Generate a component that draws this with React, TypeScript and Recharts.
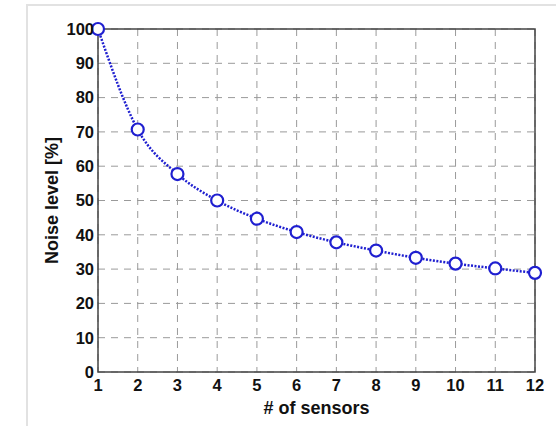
import { LineChart, Line, XAxis, YAxis, CartesianGrid, ReferenceArea, Label } from 'recharts'

const sensors = [1, 2, 3, 4, 5, 6, 7, 8, 9, 10, 11, 12]
const noise = [100, 70.7, 57.7, 50, 44.7, 40.8, 37.8, 35.4, 33.3, 31.6, 30.2, 28.9]
const yTicks = [0, 10, 20, 30, 40, 50, 60, 70, 80, 90, 100]

const data = sensors.map((n, i) => ({ n, noise: noise[i] }))

const blue = '#1f1fd0'
const font = 'Liberation Sans, Arial, sans-serif'
const tickStyle = { fontSize: 16.5, fontWeight: 'bold', fill: '#111', fontFamily: font }

export default function App() {
  return (
    <div style={{ position: 'absolute', left: 0, top: 0, width: 556, height: 426, background: '#fff', fontFamily: font }}>
      <div style={{ position: 'absolute', left: 26, top: 4, width: 530, height: 422, borderLeft: '2px solid #e2e2e2', borderTop: '2px solid #e2e2e2' }} />
      <div style={{ position: 'absolute', left: 0, top: 0 }}>
        <LineChart width={556} height={426} data={data} margin={{ top: 29, right: 21, left: 38, bottom: 24 }}>
          <CartesianGrid stroke="#9a9a9a" strokeDasharray="7 6" strokeWidth={1} />
          <XAxis
            dataKey="n"
            type="number"
            domain={[1, 12]}
            ticks={sensors}
            height={30}
            tickSize={0}
            tickMargin={7}
            axisLine={false}
            tick={tickStyle}
          >
            <Label value="# of sensors" position="center" dy={21} style={{ fontSize: 18, fontWeight: 'bold', fill: '#111', fontFamily: font }} />
          </XAxis>
          <YAxis
            type="number"
            domain={[0, 100]}
            ticks={yTicks}
            width={60}
            tickSize={0}
            tickMargin={4}
            axisLine={false}
            tick={tickStyle}
          >
            <Label value="Noise level [%]" position="center" angle={-90} dx={-16} style={{ fontSize: 18, fontWeight: 'bold', fill: '#111', fontFamily: font }} />
          </YAxis>
          <ReferenceArea x1={1} x2={12} y1={0} y2={100} fill="none" stroke="#444" strokeWidth={1.5} ifOverflow="visible" />
          <Line
            type="monotone"
            dataKey="noise"
            stroke={blue}
            strokeWidth={2.5}
            strokeDasharray="2 1.5"
            dot={{ r: 6, stroke: blue, strokeWidth: 2.2, fill: '#fff', strokeDasharray: '0' }}
            activeDot={false}
            isAnimationActive={false}
          />
        </LineChart>
      </div>
    </div>
  )
}
